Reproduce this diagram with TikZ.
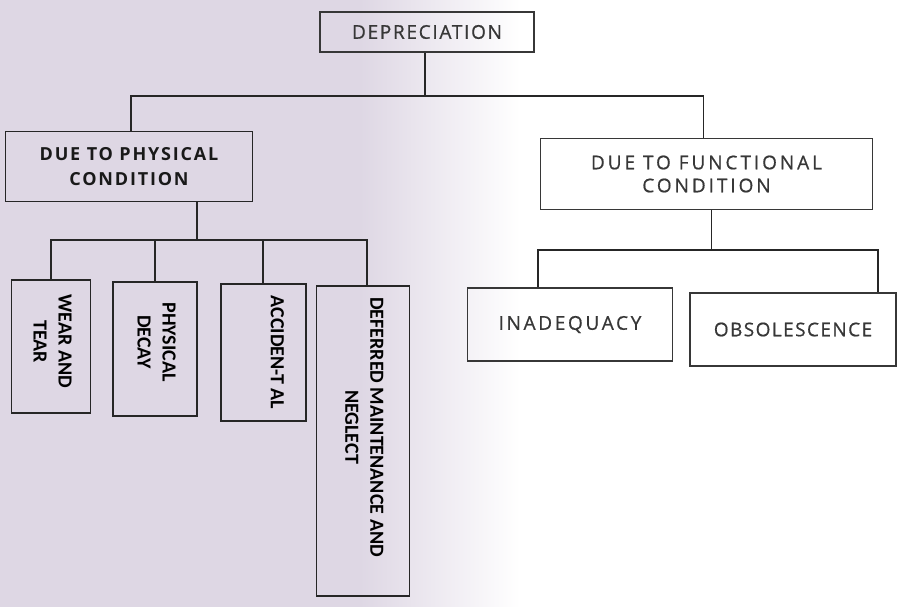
\documentclass[tikz,border=0pt]{standalone}
\usepackage{graphicx}
\usepackage{fontspec}
\setmainfont{Carlito}
\newfontfamily\boxfont[FakeBold=0.7]{Open Sans}
\usetikzlibrary{positioning,calc}

\definecolor{scanlav}{RGB}{222,215,228}
\definecolor{inkgray}{RGB}{55,55,55}
% vertical label: text turned to read downwards, optional gap below it
\newcommand{\vtext}[2][0pt]{\rotatebox{-90}{\begin{tabular}{@{}c@{}}#2\end{tabular}\hspace{#1}}}

\begin{document}
\begin{tikzpicture}[x=1pt,y=1pt,
  hbox/.style={rectangle,draw=inkgray,line width=1.5pt,inner sep=0pt,align=center,
    text=inkgray,font={\boxfont\fontsize{19}{24}\selectfont\addfontfeature{LetterSpace=9}}},
  vbox/.style={rectangle,draw=black!85,line width=1.6pt,inner sep=0pt,anchor=north west,
    font=\fontsize{20}{25}\selectfont\bfseries},
  link/.style={line width=1.6pt,draw=black!85}]
\useasboundingbox (0,0) rectangle (898,-607);
% scanned page tint
\fill[scanlav] (0,0) rectangle (360,-607);
\shade[left color=scanlav,right color=white] (360,0) rectangle (520,-607);
% top levels
\node[hbox,minimum width=214pt,minimum height=40pt](dep) at (427,-32){DEPRECIATION};
\node[hbox,below left=78pt and 66pt of dep,minimum width=247pt,minimum height=70pt,draw=black!85,
  text=black!90,font={\sffamily\fontspec{Open Sans}\fontsize{18}{25}\selectfont\bfseries\addfontfeature{LetterSpace=10}}](phys)
  {DUE TO PHYSICAL\\CONDITION};
\node[hbox,below right=85pt and 5pt of dep,minimum width=332pt,minimum height=71pt,
  font={\boxfont\fontsize{19}{23}\selectfont\addfontfeature{LetterSpace=15.5}}](func)
  {DUE TO FUNCTIONAL\\CONDITION};
% physical causes (vertical text)
\node[vbox,minimum width=79pt,minimum height=133pt](wear) at ([shift={(6,-77)}]phys.south west)
  {\vtext[10pt]{WEAR AND\\TEAR}};
\node[vbox,minimum width=84pt,minimum height=134pt](decay) at ([shift={(21,-2)}]wear.north east)
  {\vtext[14pt]{PHYSICAL\\DECAY}};
\node[vbox,minimum width=85pt,minimum height=137pt](acc) at ([shift={(22,-2)}]decay.north east)
  {\vtext{ACCIDEN-T AL\\\mbox{}}};
\node[vbox,minimum width=93pt,minimum height=310pt](defer) at ([shift={(9,-2)}]acc.north east)
  {\vtext[28pt]{DEFERRED MAINTENANCE AND\\NEGLECT}};
% functional causes
\node[hbox,minimum width=205pt,minimum height=73pt,anchor=north west,
  font={\boxfont\fontsize{19}{24}\selectfont\addfontfeature{LetterSpace=14}}](inad)
  at ([shift={(-73,-77)}]func.south west){INADEQUACY};
\node[hbox,right=16pt of inad.north east,anchor=north west,yshift=-5pt,
  minimum width=206pt,minimum height=73pt,
  font={\boxfont\fontsize{19}{24}\selectfont\addfontfeature{LetterSpace=7.5}}](obs){OBSOLESCENCE};
% junctions
\coordinate(j1) at ($(dep.south)+(-2,-43)$);
\coordinate(j2) at ($(phys.south)+(68,-38)$);
\coordinate(j3) at ($(func.south)+(5,-40)$);
\coordinate(t1) at ($(inad.north)+(-32,0)$);
\coordinate(t2) at ($(obs.north)+(85,0)$);
% connectors
\draw[link](dep.south -| j1)--(j1);
\draw[link]([xshift=2pt]phys.north) |- (j1) -| ([xshift=-3pt]func.north);
\draw[link](phys.south -| j2)--(j2);
\draw[link](wear.north) |- (j2) -| ([xshift=4pt]defer.north);
\draw[link](decay.north)--(decay.north |- j2);
\draw[link](acc.north)--(acc.north |- j2);
\draw[link](func.south -| j3)--(j3);
\draw[link](t1) |- (j3) -| (t2);
\end{tikzpicture}
\end{document}
